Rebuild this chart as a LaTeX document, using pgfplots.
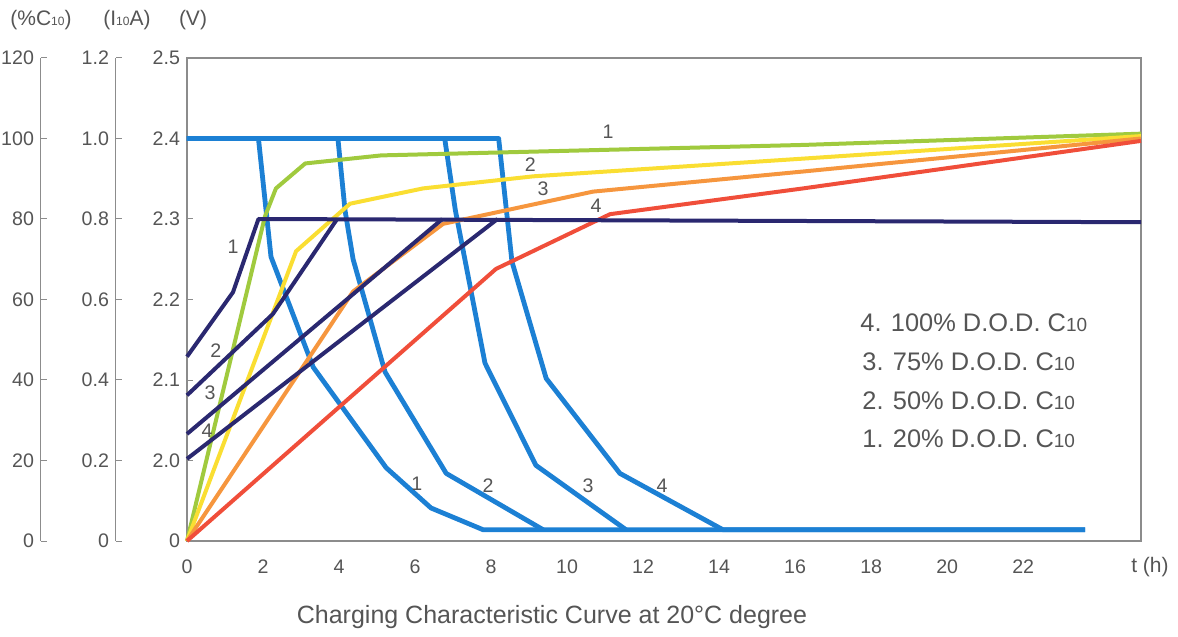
\documentclass[border=0pt]{standalone}
\usepackage{pgfplots}
\pgfplotsset{compat=1.18}
\usepackage{fontspec}
\setmainfont{Liberation Sans}
\definecolor{cblue}{RGB}{28,128,212}
\definecolor{cgreen}{RGB}{160,202,62}
\definecolor{cyellow}{RGB}{250,222,50}
\definecolor{corange}{RGB}{246,150,62}
\definecolor{cred}{RGB}{240,78,58}
\definecolor{cnavy}{RGB}{42,40,112}
\definecolor{tgray}{RGB}{85,85,85}
\definecolor{agray}{RGB}{140,140,140}
\newcommand{\fs}{\fontsize{9.8}{11}\selectfont}
\newcommand{\sub}[1]{{\fontsize{6}{6}\selectfont #1}}
\begin{document}
\begin{tikzpicture}
\useasboundingbox (-93.5pt,-48pt) rectangle (495.5pt,270.5pt);
% (%C10) axis
\begin{axis}[at={(-73pt,0pt)}, anchor=south west, scale only axis,
  width=1pt, height=241.5pt, xmin=0, xmax=1, ymin=0, ymax=120,
  axis x line=none, axis y line*=left, axis line style={-, agray, line width=0.5pt},
  ytick={0,20,40,60,80,100,120}, yticklabels={0,20,40,60,80,100,120},
  tick align=inside, major tick length=3pt, tick style={agray, line width=0.5pt},
  yticklabel style={font=\fs, text=tgray}]
\end{axis}
% (I10A) axis
\begin{axis}[at={(-35.5pt,0pt)}, anchor=south west, scale only axis,
  width=1pt, height=241.5pt, xmin=0, xmax=1, ymin=0, ymax=1.2,
  axis x line=none, axis y line*=left, axis line style={-, agray, line width=0.5pt},
  ytick={0,0.2,0.4,0.6,0.8,1.0,1.2}, yticklabels={0,0.2,0.4,0.6,0.8,1.0,1.2},
  tick align=inside, major tick length=3pt, tick style={agray, line width=0.5pt},
  yticklabel style={font=\fs, text=tgray}]
\end{axis}
% main axis
\begin{axis}[at={(0pt,0pt)}, anchor=south west, scale only axis,
  width=477pt, height=241.5pt, xmin=0, xmax=25.1, ymin=0, ymax=6,
  axis line style={agray, line width=0.6pt},
  xtick={0,2,...,22}, xticklabels={0,2,4,6,8,10,12,14,16,18,20,22},
  xtick style={draw=none}, xticklabel style={font=\fs, text=tgray, yshift=-6pt},
  ytick={0,1,2,3,4,5,6}, yticklabels={0,2.0,2.1,2.2,2.3,2.4,2.5},
  ytick pos=left, tick align=inside, major tick length=3pt,
  ytick style={agray, line width=0.5pt},
  yticklabel style={font=\fs, text=tgray},
  clip=false]
% current curves (blue)
\addplot[cblue, line width=2.4pt, line join=round] coordinates {(0,5)(1.88,5)(2.21,3.53)(3.32,2.16)(5.24,0.91)(6.42,0.41)(7.79,0.14)(23.63,0.14)};
\addplot[cblue, line width=2.4pt, line join=round] coordinates {(0,5)(3.97,5)(4.16,4.1)(4.37,3.5)(5.21,2.1)(6.82,0.84)(9.37,0.14)};
\addplot[cblue, line width=2.4pt, line join=round] coordinates {(0,5)(6.78,5)(7.06,4.11)(7.84,2.21)(9.18,0.94)(11.55,0.14)};
\addplot[cblue, line width=2.4pt, line join=round] coordinates {(0,5)(8.2,5)(8.55,3.47)(9.45,2.02)(11.39,0.84)(14.1,0.14)(23.63,0.14)};
% charge curves
\addplot[cgreen, line width=2pt, line join=round] coordinates {(0,0)(2.05,4.03)(2.34,4.38)(3.11,4.69)(5.11,4.79)(16.21,4.92)(25.1,5.06)};
\addplot[cyellow, line width=2pt, line join=round] coordinates {(0,0)(2.87,3.6)(4.29,4.19)(6.21,4.38)(9.11,4.53)(16.21,4.75)(25.1,5.03)};
\addplot[corange, line width=2pt, line join=round] coordinates {(0,0)(4.37,3.1)(6.74,3.94)(10.68,4.34)(16.21,4.59)(25.1,5.0)};
\addplot[cred, line width=2pt, line join=round] coordinates {(0,0)(8.13,3.38)(11.13,4.06)(16.21,4.38)(25.1,4.97)};
% voltage curves (navy)
\addplot[cnavy, line width=2pt, line join=round] coordinates {(0,2.29)(1.21,3.09)(1.88,4)(25.1,3.96)};
\addplot[cnavy, line width=2pt, line join=round] coordinates {(0,1.81)(2.26,2.82)(3.95,4)};
\addplot[cnavy, line width=2pt, line join=round] coordinates {(0,1.33)(6.72,4)};
\addplot[cnavy, line width=2pt, line join=round] coordinates {(0,1.02)(8.17,4)};
% curve numbers
\begin{scope}[every node/.style={font=\fs, text=tgray}]
\node at (axis cs:11.08,5.08) {1};
\node at (axis cs:9.03,4.68) {2};
\node at (axis cs:9.37,4.38) {3};
\node at (axis cs:10.76,4.17) {4};
\node at (axis cs:1.21,3.66) {1};
\node at (axis cs:0.76,2.36) {2};
\node at (axis cs:0.61,1.84) {3};
\node at (axis cs:0.53,1.37) {4};
\node at (axis cs:6.05,0.71) {1};
\node at (axis cs:7.92,0.69) {2};
\node at (axis cs:10.55,0.69) {3};
\node at (axis cs:12.5,0.69) {4};
\end{scope}
\end{axis}
% headers
\begin{scope}[every node/.style={font=\fontsize{10.5}{12}\selectfont, text=tgray}]
\node at (-73pt,260.5pt) {(\%C\sub{10})};
\node at (-30pt,260.5pt) {(I\sub{10}A)};
\node at (3pt,260.5pt) {(V)};
\node at (481.5pt,-13pt) {t (h)};
\end{scope}
% legend text
\begin{scope}[every node/.style={font=\fontsize{12.7}{14}\selectfont, text=tgray, anchor=west, inner sep=0pt}]
\node at (336.5pt,109pt) {4. 100\% D.O.D. C\sub{\fontsize{9.5}{9}\selectfont 10}};
\node at (337.5pt,89.5pt) {3. 75\% D.O.D. C\sub{\fontsize{9.5}{9}\selectfont 10}};
\node at (337.5pt,70pt) {2. 50\% D.O.D. C\sub{\fontsize{9.5}{9}\selectfont 10}};
\node at (337.5pt,51pt) {1. 20\% D.O.D. C\sub{\fontsize{9.5}{9}\selectfont 10}};
\end{scope}
\node[font=\fontsize{12.5}{14}\selectfont, text=tgray] at (182.5pt,-38pt) {Charging Characteristic Curve at 20°C degree};
\end{tikzpicture}
\end{document}
